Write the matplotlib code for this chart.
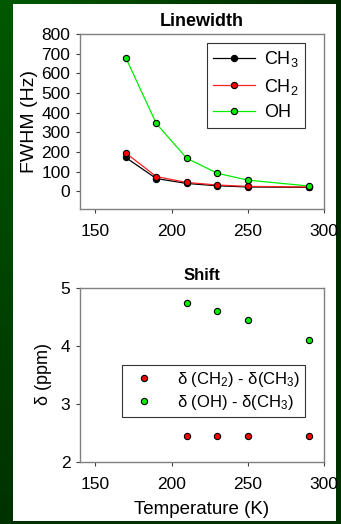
import numpy as np
import matplotlib
matplotlib.use("Agg")
import matplotlib.pyplot as plt
from matplotlib.patches import Rectangle

plt.rcParams['font.family'] = ['Liberation Sans', 'DejaVu Sans']
plt.rcParams['mathtext.fontset'] = 'custom'
plt.rcParams['mathtext.rm'] = 'Liberation Sans'
plt.rcParams['mathtext.it'] = 'Liberation Sans'

# Linewidth data
temp_lw = [170, 190, 210, 230, 250, 290]
fwhm_ch3 = [172, 65, 40, 28, 22, 20]
fwhm_ch2 = [195, 75, 45, 32, 25, 22]
fwhm_oh = [680, 345, 168, 92, 57, 27]

# Shift data
temp_sh = [210, 230, 250, 290]
shift_ch2 = [2.45, 2.45, 2.45, 2.45]
shift_oh = [4.75, 4.6, 4.45, 4.1]

x_ticks = [150, 200, 250, 300]

W, H = 341, 524
fig = plt.figure(figsize=(W / 100, H / 100), dpi=100)

# dark green slide background with gradient
bg = fig.add_axes([0, 0, 1, 1])
yy, xx = np.mgrid[0:1:50j, 0:1:50j]
tl = np.array([0, 88, 0]) / 255
bl = np.array([0, 50, 0]) / 255
tr = np.array([0, 40, 0]) / 255
br = np.array([0, 50, 0]) / 255
img = ((1 - xx)[..., None] * ((1 - yy)[..., None] * tl + yy[..., None] * bl)
       + xx[..., None] * ((1 - yy)[..., None] * tr + yy[..., None] * br))
bg.imshow(img, extent=[0, 1, 0, 1], aspect='auto')
bg.add_patch(Rectangle((13 / W, 1 - 521 / H), (336 - 13) / W, (521 - 4) / H,
                       facecolor='white', edgecolor='none'))
bg.set_xlim(0, 1)
bg.set_ylim(0, 1)
bg.axis('off')

spine_col = '#808080'


def style(ax):
    for s in ax.spines.values():
        s.set_color(spine_col)
        s.set_linewidth(1.0)
    ax.tick_params(direction='out', length=3, width=0.8, color='#404040',
                   labelsize=12.5, top=False, right=False)
    ax.tick_params(axis='x', pad=8)
    ax.tick_params(axis='y', pad=4)
    ax.set_xlim(140, 300)
    ax.set_xticks(x_ticks)


# top panel: Linewidth
ax1 = fig.add_axes([80 / W, 1 - 209 / H, (324 - 80) / W, (209 - 34) / H])
ax1.plot(temp_lw, fwhm_ch3, color='black', lw=0.9, marker='o', ms=4.5,
         mfc='black', mec='black', mew=0.8, label=r'CH$_3$')
ax1.plot(temp_lw, fwhm_ch2, color='#ff2020', lw=0.9, marker='o', ms=4.5,
         mfc='#ff0000', mec='black', mew=0.8, label=r'CH$_2$')
ax1.plot(temp_lw, fwhm_oh, color='#00ee00', lw=0.9, marker='o', ms=4.5,
         mfc='#00ee00', mec='black', mew=0.8, label='OH')
style(ax1)
ax1.set_ylim(-90, 800)
ax1.set_yticks(range(0, 801, 100))
ax1.set_ylabel('FWHM (Hz)', fontsize=14, labelpad=2)
ax1.set_title('Linewidth', fontsize=13, fontweight='bold', pad=6)
leg1 = ax1.legend(loc='upper left', bbox_to_anchor=(0.52, 0.95),
                  fontsize=13, frameon=True, fancybox=False,
                  edgecolor='black', handlelength=2.3, borderpad=0.35,
                  labelspacing=0.42, handletextpad=0.5, borderaxespad=0)
leg1.get_frame().set_linewidth(0.8)

# bottom panel: Shift
ax2 = fig.add_axes([80 / W, 1 - 462 / H, (324 - 80) / W, (462 - 288) / H])
ax2.plot(temp_sh, shift_ch2, ls='none', marker='o', ms=4.5, mfc='#ff0000',
         mec='black', mew=0.8, label=r'$\delta$ (CH$_2$) - $\delta$(CH$_3$)')
ax2.plot(temp_sh, shift_oh, ls='none', marker='o', ms=4.5, mfc='#00ee00',
         mec='black', mew=0.8, label=r'$\delta$ (OH) - $\delta$(CH$_3$)')
style(ax2)
ax2.set_ylim(2, 5)
ax2.set_yticks([2, 3, 4, 5])
ax2.set_ylabel(r'$\delta$ (ppm)', fontsize=13, labelpad=5)
ax2.set_xlabel('Temperature (K)', fontsize=13.5, labelpad=6)
ax2.set_title('Shift', fontsize=12, fontweight='bold', pad=6)
leg2 = ax2.legend(loc='upper left', bbox_to_anchor=(0.172, 0.557),
                  fontsize=12, frameon=True, fancybox=False,
                  edgecolor='black', handlelength=2.0, borderpad=0.3,
                  labelspacing=0.25, handletextpad=1.0, borderaxespad=0)
leg2.get_frame().set_linewidth(0.8)

fig.savefig('out.png', dpi=100)
